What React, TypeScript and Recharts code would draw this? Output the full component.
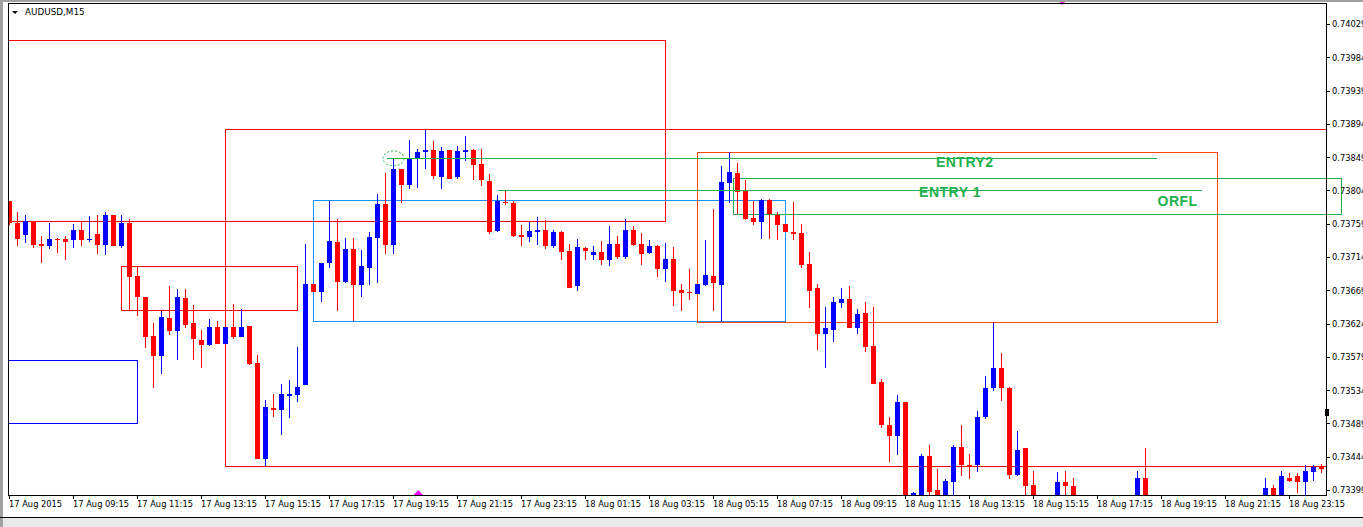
import React from "react";
import {
  ComposedChart,
  Bar,
  XAxis,
  YAxis,
  ReferenceArea,
  ReferenceLine,
  ReferenceDot,
} from "recharts";

// AUDUSD M15 candles (index 0 = 17 Aug 07:15)
const open = [
  0.7379, 0.73761, 0.73745, 0.73763, 0.73732, 0.7373, 0.73739, 0.73739, 0.73737, 0.73751,
  0.73738, 0.73746, 0.73731, 0.73771, 0.73729, 0.73761, 0.73689, 0.7366, 0.73608, 0.73581,
  0.73632, 0.73615, 0.73659, 0.73625, 0.73603, 0.73596, 0.7362, 0.73597, 0.7362, 0.73607,
  0.73621, 0.73571, 0.73441, 0.7351, 0.73508, 0.73527, 0.73528, 0.73542, 0.73678, 0.73668,
  0.73706, 0.73735, 0.73681, 0.73725, 0.73677, 0.737, 0.73741, 0.73786, 0.73731, 0.73833,
  0.73812, 0.73849, 0.73856, 0.73859, 0.73823, 0.73859, 0.73823, 0.73856, 0.73859, 0.7384,
  0.73817, 0.7375, 0.73789, 0.73788, 0.73744, 0.73742, 0.73748, 0.73751, 0.7373, 0.73748,
  0.73723, 0.73676, 0.73727, 0.73718, 0.73721, 0.73711, 0.73732, 0.73714, 0.73751, 0.73732,
  0.7372, 0.7373, 0.73698, 0.73712, 0.7367, 0.73667, 0.73664, 0.73677, 0.73689, 0.73677,
  0.73815, 0.73828, 0.73804, 0.73768, 0.73762, 0.73792, 0.73772, 0.73759, 0.73748, 0.73747,
  0.73705, 0.73673, 0.73611, 0.73616, 0.73653, 0.73658, 0.73618, 0.73639, 0.73595, 0.73545,
  0.73488, 0.73472, 0.73518, 0.73384, 0.73388, 0.73446, 0.734, 0.73372, 0.73411, 0.73458,
  0.73434, 0.73433, 0.73499, 0.73537, 0.73565, 0.73537, 0.7342, 0.73456, 0.73407, 0.73378,
  0.73365, 0.73372, 0.73411, 0.73405, 0.7338, 0.73372, 0.73378, 0.7337, 0.73375, 0.73368,
  0.73374, 0.7339, 0.73416, 0.73385, 0.73376, 0.7337, 0.73364, 0.73372, 0.73366, 0.73374,
  0.7337, 0.73377, 0.73372, 0.73368, 0.73375, 0.7338, 0.73376, 0.73385, 0.73403, 0.73388,
  0.73416, 0.73419, 0.73411, 0.73424, 0.73431,
];

const high = [
  0.7379, 0.73775, 0.73771, 0.73763, 0.73743, 0.7376, 0.73741, 0.73743, 0.73759, 0.73763,
  0.7377, 0.73771, 0.73776, 0.73771, 0.73771, 0.73766, 0.73702, 0.73661, 0.73625, 0.73642,
  0.73675, 0.73672, 0.73672, 0.7365, 0.73616, 0.73631, 0.73628, 0.7362, 0.73651, 0.73644,
  0.73621, 0.73582, 0.73522, 0.7353, 0.73543, 0.73548, 0.73593, 0.73732, 0.73678, 0.73706,
  0.73791, 0.73766, 0.7374, 0.7374, 0.73724, 0.73748, 0.738, 0.73828, 0.73848, 0.73833,
  0.73873, 0.73861, 0.73887, 0.73872, 0.73864, 0.73859, 0.73865, 0.73878, 0.73861, 0.73861,
  0.73827, 0.73798, 0.73804, 0.73791, 0.73758, 0.73762, 0.73769, 0.73765, 0.73751, 0.7375,
  0.73732, 0.73739, 0.73728, 0.7373, 0.73736, 0.73757, 0.73743, 0.73766, 0.73756, 0.73747,
  0.73738, 0.73731, 0.73734, 0.73728, 0.73678, 0.73698, 0.73678, 0.73738, 0.7378, 0.73838,
  0.73856, 0.73842, 0.73819, 0.73791, 0.73793, 0.73793, 0.73775, 0.73759, 0.73789, 0.73759,
  0.73721, 0.73678, 0.73647, 0.7366, 0.73673, 0.73675, 0.73645, 0.73654, 0.73647, 0.7355,
  0.73499, 0.73528, 0.73518, 0.73397, 0.73449, 0.7346, 0.73428, 0.73415, 0.73461, 0.73487,
  0.73449, 0.73506, 0.73554, 0.73626, 0.73585, 0.73539, 0.7348, 0.73456, 0.73426, 0.73388,
  0.73385, 0.73424, 0.73426, 0.73416, 0.7339, 0.73385, 0.73388, 0.73382, 0.73386, 0.7338,
  0.73388, 0.73426, 0.73456, 0.7339, 0.73386, 0.7338, 0.73376, 0.73384, 0.73378, 0.73386,
  0.7338, 0.73388, 0.73382, 0.7338, 0.73387, 0.73389, 0.73388, 0.73416, 0.73407, 0.73426,
  0.73423, 0.73422, 0.73434, 0.73434, 0.73435,
];

const low = [
  0.73758, 0.73729, 0.73734, 0.73727, 0.73707, 0.73726, 0.7372, 0.7371, 0.73727, 0.7373,
  0.73735, 0.73719, 0.73718, 0.73729, 0.73727, 0.73643, 0.73635, 0.73592, 0.73537, 0.73557,
  0.73609, 0.73576, 0.73619, 0.73576, 0.73565, 0.73595, 0.73597, 0.73597, 0.73604, 0.73606,
  0.73568, 0.73441, 0.73432, 0.73499, 0.73474, 0.73497, 0.73519, 0.73542, 0.73668, 0.73654,
  0.737, 0.73641, 0.73679, 0.73628, 0.7366, 0.73677, 0.73679, 0.73719, 0.73719, 0.73787,
  0.73807, 0.73808, 0.73834, 0.7382, 0.73806, 0.7382, 0.7382, 0.73845, 0.73819, 0.7381,
  0.73746, 0.73749, 0.73785, 0.73742, 0.73729, 0.73735, 0.73731, 0.73726, 0.73727, 0.7371,
  0.73673, 0.73669, 0.73711, 0.7371, 0.73704, 0.73702, 0.73712, 0.73712, 0.7373, 0.73704,
  0.73719, 0.73688, 0.73681, 0.73649, 0.73642, 0.73657, 0.73664, 0.73675, 0.73641, 0.73628,
  0.73788, 0.73773, 0.73765, 0.73758, 0.73739, 0.73739, 0.73738, 0.73748, 0.73738, 0.737,
  0.73646, 0.73589, 0.73564, 0.736, 0.73646, 0.73618, 0.73611, 0.73586, 0.73543, 0.73483,
  0.73437, 0.73447, 0.73372, 0.73378, 0.73384, 0.7338, 0.73368, 0.73365, 0.73385, 0.73418,
  0.73414, 0.73424, 0.73495, 0.73533, 0.7352, 0.73414, 0.73419, 0.73385, 0.7337, 0.73358,
  0.73355, 0.73368, 0.7338, 0.73372, 0.73368, 0.73362, 0.73366, 0.7336, 0.73365, 0.73358,
  0.73368, 0.73382, 0.73378, 0.7337, 0.73365, 0.73358, 0.73352, 0.73362, 0.73356, 0.73366,
  0.7336, 0.73368, 0.73362, 0.73358, 0.73366, 0.7337, 0.73368, 0.73378, 0.73382, 0.7338,
  0.7341, 0.73395, 0.73385, 0.73412, 0.73422,
];

const close = [
  0.73761, 0.73739, 0.73763, 0.73731, 0.7373, 0.73739, 0.73737, 0.73735, 0.73751, 0.73738,
  0.73739, 0.73731, 0.73771, 0.73729, 0.73761, 0.73688, 0.7366, 0.73607, 0.73581, 0.73634,
  0.73615, 0.73661, 0.73623, 0.73604, 0.73596, 0.7362, 0.73597, 0.7362, 0.73607, 0.7362,
  0.7357, 0.73442, 0.73512, 0.73508, 0.73529, 0.73529, 0.73539, 0.73678, 0.73668, 0.73706,
  0.73736, 0.73681, 0.73725, 0.73677, 0.73702, 0.73742, 0.73786, 0.73731, 0.73833, 0.73812,
  0.73848, 0.73857, 0.73859, 0.73824, 0.73858, 0.7382, 0.73858, 0.73859, 0.73839, 0.73819,
  0.73748, 0.73791, 0.73787, 0.73743, 0.73742, 0.7375, 0.73751, 0.7373, 0.73748, 0.73722,
  0.73673, 0.73728, 0.73723, 0.73721, 0.73711, 0.73732, 0.73714, 0.73751, 0.73731, 0.73719,
  0.7373, 0.73698, 0.73712, 0.73669, 0.73666, 0.73666, 0.73678, 0.7369, 0.73679, 0.73816,
  0.7383, 0.73803, 0.73766, 0.73762, 0.73792, 0.73773, 0.73758, 0.73748, 0.73746, 0.73704,
  0.73669, 0.73611, 0.73618, 0.73654, 0.73658, 0.73618, 0.73638, 0.73593, 0.73543, 0.73487,
  0.73472, 0.73519, 0.7338, 0.73396, 0.73446, 0.73397, 0.73375, 0.73412, 0.73458, 0.73433,
  0.73432, 0.73499, 0.73537, 0.73565, 0.73537, 0.7342, 0.73454, 0.73405, 0.73378, 0.73365,
  0.73372, 0.73411, 0.73405, 0.7338, 0.73372, 0.73378, 0.7337, 0.73375, 0.73368, 0.73374,
  0.73386, 0.73416, 0.73385, 0.73376, 0.7337, 0.73364, 0.73372, 0.73366, 0.73374, 0.7337,
  0.73377, 0.73372, 0.73368, 0.73375, 0.7338, 0.73376, 0.73385, 0.73403, 0.73388, 0.73418,
  0.73412, 0.73411, 0.73426, 0.73431, 0.73428,
];

const timeTicks = [0, 8, 16, 24, 32, 40, 48, 56, 64, 72, 80, 88, 96, 104, 112, 120, 128, 136, 144, 152, 160];
const timeLabels = [
  "17 Aug 2015", "17 Aug 09:15", "17 Aug 11:15", "17 Aug 13:15", "17 Aug 15:15", "17 Aug 17:15",
  "17 Aug 19:15", "17 Aug 21:15", "17 Aug 23:15", "18 Aug 01:15", "18 Aug 03:15", "18 Aug 05:15",
  "18 Aug 07:15", "18 Aug 09:15", "18 Aug 11:15", "18 Aug 13:15", "18 Aug 15:15", "18 Aug 17:15",
  "18 Aug 19:15", "18 Aug 21:15", "18 Aug 23:15",
];
const priceTicks = [
  0.73399, 0.73444, 0.73489, 0.73534, 0.73579, 0.73624, 0.73669, 0.73714,
  0.73759, 0.73804, 0.73849, 0.73894, 0.73939, 0.73984, 0.74029,
];

const data = open.map((o, i) => ({
  i,
  open: o,
  high: high[i],
  low: low[i],
  close: close[i],
  range: [low[i], high[i]],
}));

const PLOT_RIGHT = 1326;
const PLOT_BOTTOM = 495;
const AXIS_FONT = '"DejaVu Sans", Verdana, sans-serif';
const GREEN = "#22b14c";

function Candle(props: any) {
  const { x, y, width, height, payload } = props;
  if (!payload) return null;
  const top = Math.min(y, y + height);
  const h = Math.abs(height);
  const span = payload.high - payload.low;
  const py = (p: number) => (span > 0 ? top + ((payload.high - p) / span) * h : top);
  const cx = x + width / 2;
  const color = payload.close >= payload.open ? "#0000ff" : "#ff0000";
  const bTop = py(Math.max(payload.open, payload.close));
  const bH = Math.max(1, py(Math.min(payload.open, payload.close)) - bTop);
  return (
    <g>
      <line x1={cx} x2={cx} y1={top} y2={top + h} stroke={color} strokeWidth={1} />
      <rect x={cx - 2.5} y={bTop} width={5} height={bH} fill={color} />
    </g>
  );
}

function TimeTick({ x, payload }: any) {
  const k = timeTicks.indexOf(payload.value);
  return (
    <g>
      <line x1={x} x2={x} y1={PLOT_BOTTOM} y2={PLOT_BOTTOM + 4} stroke="#000" />
      <text x={x - 0.5} y={PLOT_BOTTOM + 12} fontSize={8.3} fontFamily={AXIS_FONT} fill="#000">
        {timeLabels[k]}
      </text>
    </g>
  );
}

function PriceTick({ y, payload }: any) {
  return (
    <g>
      <line x1={PLOT_RIGHT} x2={PLOT_RIGHT + 4} y1={y} y2={y} stroke="#000" />
      <text x={PLOT_RIGHT + 6} y={y} dy="0.35em" fontSize={8.3} fontFamily={AXIS_FONT} fill="#000">
        {payload.value.toFixed(5)}
      </text>
    </g>
  );
}

const label = (txt: string) => (p: any) => (
  <text
    x={p.cx}
    y={p.cy}
    fill={GREEN}
    fontSize={14}
    fontWeight="bold"
    letterSpacing={0.5}
    fontFamily='"Liberation Sans", Arial, sans-serif'
  >
    {txt}
  </text>
);

export default function App() {
  return (
    <div style={{ position: "absolute", left: 0, top: 0, width: 1363, height: 527, background: "#fff" }}>
      <style>{`body{margin:0} .recharts-surface rect, .recharts-surface line, .recharts-surface path { shape-rendering: crispEdges; }`}</style>
      <ComposedChart width={1363} height={527} data={data} margin={{ top: 4, right: 0, bottom: 0, left: 8 }}>
        <XAxis
          dataKey="i"
          type="number"
          domain={[-0.1875, 164.5625]}
          allowDataOverflow
          ticks={timeTicks}
          interval={0}
          height={32}
          axisLine={false}
          tickLine={false}
          tick={<TimeTick />}
        />
        <YAxis
          orientation="right"
          width={37}
          domain={[0.733929, 0.740567]}
          allowDataOverflow
          ticks={priceTicks}
          interval={0}
          axisLine={false}
          tickLine={false}
          tick={<PriceTick />}
        />

        <Bar dataKey="range" barSize={5} shape={<Candle />} isAnimationActive={false} />

        {/* rectangles drawn on the chart */}
        <ReferenceArea x1={-5} x2={82} y1={0.73763} y2={0.74007} fill="none" stroke="#ff0000" ifOverflow="hidden" />
        <ReferenceArea x1={27} x2={200} y1={0.73431} y2={0.73887} fill="none" stroke="#ff0000" ifOverflow="hidden" />
        <ReferenceArea x1={14} x2={36} y1={0.73642} y2={0.73702} fill="none" stroke="#ff0000" ifOverflow="hidden" />
        <ReferenceArea x1={-5} x2={16} y1={0.73489} y2={0.73575} fill="none" stroke="#0000ff" ifOverflow="hidden" />
        <ReferenceArea x1={38} x2={97} y1={0.73627} y2={0.73791} fill="none" stroke="#1e90ff" ifOverflow="hidden" />
        <ReferenceArea x1={86} x2={151} y1={0.73626} y2={0.73856} fill="none" stroke="#ff4500" ifOverflow="hidden" />
        <ReferenceArea x1={90.5} x2={166.5} y1={0.73772} y2={0.73821} fill="none" stroke={GREEN} ifOverflow="visible" />

        {/* entry lines */}
        <ReferenceLine segment={[{ x: 47.2, y: 0.73848 }, { x: 143.4, y: 0.73848 }]} stroke={GREEN} ifOverflow="visible" />
        <ReferenceLine segment={[{ x: 61.1, y: 0.73805 }, { x: 149.1, y: 0.73805 }]} stroke={GREEN} ifOverflow="visible" />

        <ReferenceDot
          x={48}
          y={0.73848}
          ifOverflow="visible"
          shape={(p: any) => (
            <ellipse cx={p.cx} cy={p.cy} rx={10.5} ry={7.5} fill="none" stroke={GREEN} strokeDasharray="2 2" />
          )}
        />
        <ReferenceDot x={115.8} y={0.73837} ifOverflow="visible" shape={label("ENTRY2")} />
        <ReferenceDot x={113.7} y={0.73796} ifOverflow="visible" shape={label("ENTRY 1")} />
        <ReferenceDot x={143.5} y={0.73784} ifOverflow="visible" shape={label("ORFL")} />

        {/* magenta arrows at the chart edges */}
        <ReferenceDot
          x={131.6}
          y={0.740567}
          ifOverflow="visible"
          shape={(p: any) => (
            <polygon points={`${p.cx - 4.5},${p.cy - 4} ${p.cx + 4.5},${p.cy - 4} ${p.cx},${p.cy + 1}`} fill="#ff00ff" />
          )}
        />
        <ReferenceDot
          x={51.1}
          y={0.733929}
          ifOverflow="visible"
          shape={(p: any) => (
            <polygon points={`${p.cx - 4.5},${p.cy} ${p.cx + 4.5},${p.cy} ${p.cx},${p.cy - 5}`} fill="#ff00ff" />
          )}
        />
      </ComposedChart>

      {/* chart frame and window chrome */}
      <div
        style={{
          position: "absolute",
          left: 8,
          top: 3,
          width: 1319,
          height: 493,
          border: "1px solid #000",
          boxSizing: "border-box",
          pointerEvents: "none",
        }}
      />
      <div style={{ position: "absolute", left: 0, top: 0, width: 1363, height: 2, background: "#a0a0a0" }} />
      <div style={{ position: "absolute", left: 0, top: 0, width: 3, height: 527, background: "#a0a0a0" }} />
      <div style={{ position: "absolute", left: 0, top: 517, width: 1363, height: 1, background: "#000" }} />
      <div style={{ position: "absolute", left: 3, top: 518, width: 1360, height: 9, background: "#e8e8e8" }} />
      <div style={{ position: "absolute", left: 1325, top: 409, width: 4, height: 7, background: "#000" }} />
      <div
        style={{
          position: "absolute",
          left: 12,
          top: 11,
          width: 0,
          height: 0,
          borderLeft: "3px solid transparent",
          borderRight: "3px solid transparent",
          borderTop: "3px solid #000",
        }}
      />
      <div
        style={{
          position: "absolute",
          left: 25,
          top: 6,
          fontFamily: AXIS_FONT,
          fontSize: 8.8,
          lineHeight: "12px",
          color: "#000",
        }}
      >
        AUDUSD,M15
      </div>
    </div>
  );
}
